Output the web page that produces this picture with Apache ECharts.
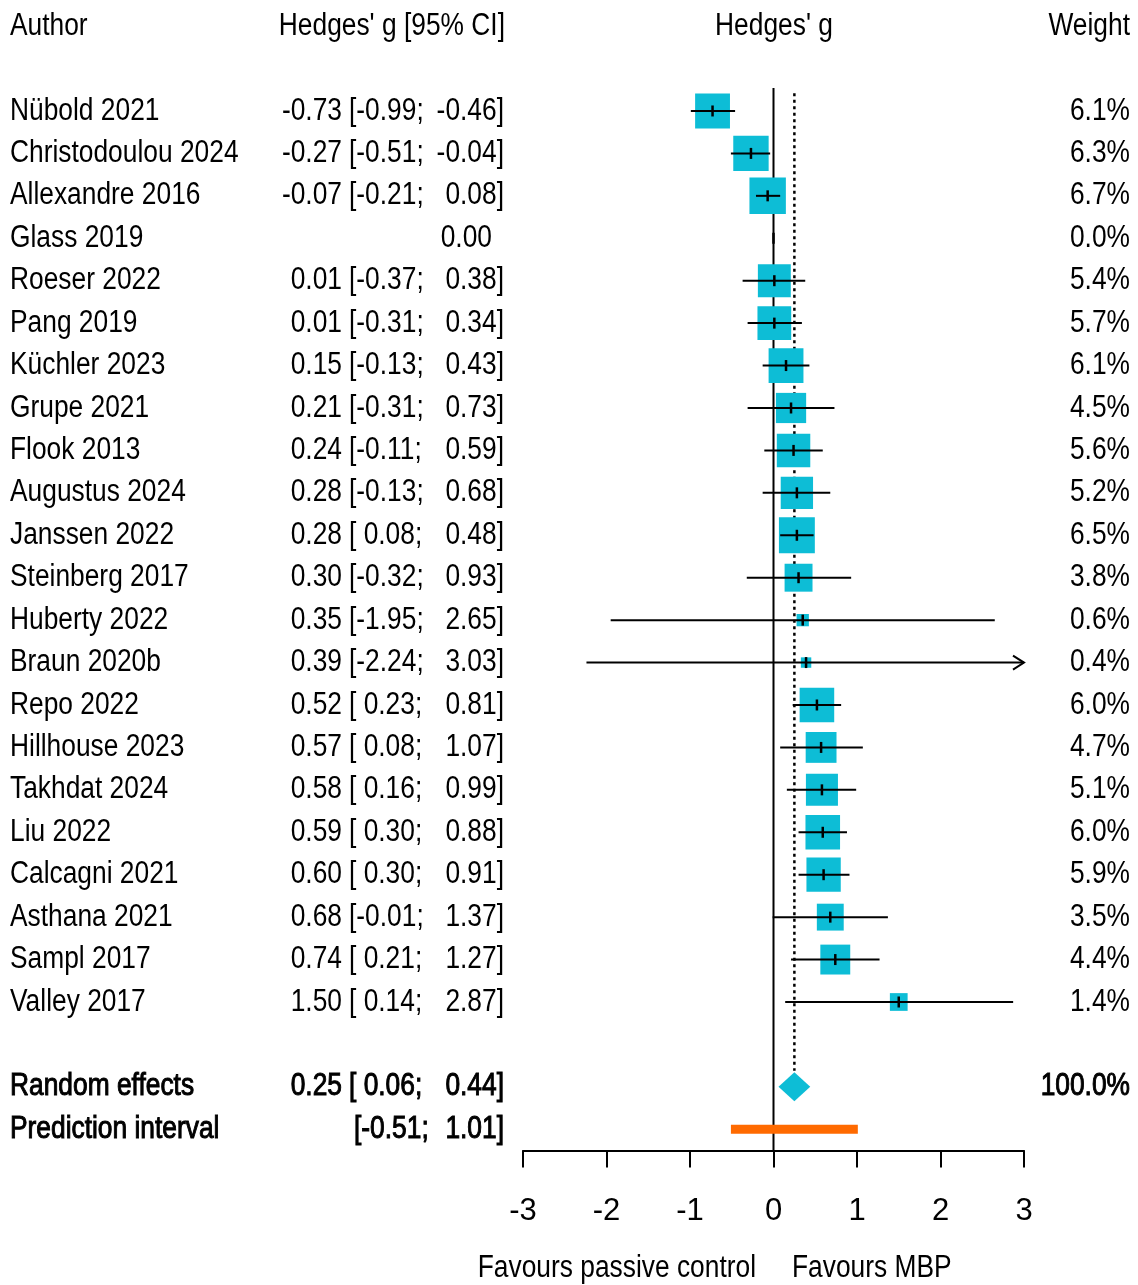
<!DOCTYPE html>
<html><head><meta charset="utf-8">
<script src="https://cdn.jsdelivr.net/npm/echarts@6/dist/echarts.min.js"></script>
<style>html,body{margin:0;padding:0;background:#fff}#c{width:1138px;height:1285px}</style>
</head><body><div id="c"></div>
<script>
// ---- data ----
const authors = ['Nübold 2021','Christodoulou 2024','Allexandre 2016','Glass 2019','Roeser 2022','Pang 2019','Küchler 2023','Grupe 2021','Flook 2013','Augustus 2024','Janssen 2022','Steinberg 2017','Huberty 2022','Braun 2020b','Repo 2022','Hillhouse 2023','Takhdat 2024','Liu 2022','Calcagni 2021','Asthana 2021','Sampl 2017','Valley 2017'];
const estimates = [-0.73,-0.27,-0.07,0.00,0.01,0.01,0.15,0.21,0.24,0.28,0.28,0.30,0.35,0.39,0.52,0.57,0.58,0.59,0.60,0.68,0.74,1.50];
const lowers = [-0.99,-0.51,-0.21,null,-0.37,-0.31,-0.13,-0.31,-0.11,-0.13,0.08,-0.32,-1.95,-2.24,0.23,0.08,0.16,0.30,0.30,-0.01,0.21,0.14];
const uppers = [-0.46,-0.04,0.08,null,0.38,0.34,0.43,0.73,0.59,0.68,0.48,0.93,2.65,3.03,0.81,1.07,0.99,0.88,0.91,1.37,1.27,2.87];
const weights = [6.1,6.3,6.7,0.0,5.4,5.7,6.1,4.5,5.6,5.2,6.5,3.8,0.6,0.4,6.0,4.7,5.1,6.0,5.9,3.5,4.4,1.4];
const pooled = [0.25, 0.06, 0.44];      // estimate, lower, upper
const pooledWeight = 100.0;
const predInterval = [-0.51, 1.01];
const xTicks = [-3,-2,-1,0,1,2,3];
const headers = ['Author', "Hedges' g [95% CI]", "Hedges' g", 'Weight'];
const favourLabels = ['Favours passive control', 'Favours MBP'];

// ---- layout / style ----
const FONT = '"Liberation Sans",Arial,sans-serif';
const FS = 31;
const SX = 0.85;   // horizontal condensing of text
const CYAN = '#0DBDD6';
const ORANGE = '#FF6A00';
const ROW_RE = authors.length + 1;   // random effects row
const ROW_PI = authors.length + 2;   // prediction interval row
const AXIS_X0 = xTicks[0], AXIS_X1 = xTicks[xTicks.length-1];

function fmt(v){ return v.toFixed(2); }
function lowTxt(v){ return '[' + (v >= 0 ? ' ' : '') + fmt(v) + ';'; }

// text items for text grid (x in pixel-like units)
const texts = [];
function T(x,row,text,align,bold){ texts.push({value:[x,row], text, align, bold:!!bold}); }
T(10,-2,headers[0],'left'); T(505,-2,headers[1],'right'); T(774,-2,headers[2],'center'); T(1130,-2,headers[3],'right');
authors.forEach((a,i)=>{
  T(10,i,a,'left');
  if (lowers[i] === null) { T(492,i,fmt(estimates[i]),'right'); }
  else {
    T(342,i,fmt(estimates[i]),'right');
    T(349,i,lowTxt(lowers[i]),'left');
    T(504,i,fmt(uppers[i]) + ']','right');
  }
  T(1130,i,weights[i].toFixed(1)+'%','right');
});
T(10,ROW_RE,'Random effects','left',true);
T(342,ROW_RE,fmt(pooled[0]),'right',true);
T(349,ROW_RE,lowTxt(pooled[1]),'left',true);
T(504,ROW_RE,fmt(pooled[2]) + ']','right',true);
T(1130,ROW_RE,pooledWeight.toFixed(1)+'%','right',true);
T(10,ROW_PI,'Prediction interval','left',true);
T(354,ROW_PI,lowTxt(predInterval[0]),'left',true);
T(504,ROW_PI,fmt(predInterval[1]) + ']','right',true);
T(756,27.28,favourLabels[0],'right');
T(792,27.28,favourLabels[1],'left');

const studyData = authors.map((a,i)=>[estimates[i], i]);

const yAxisCommon = {type:'value', min:-2.5, max:24.5, inverse:true, show:false};
const gridPos = {top:4.9, height:1145.6};

const option = {
  animation:false,
  backgroundColor:'#fff',
  grid:[
    Object.assign({left:523, width:501}, gridPos),
    Object.assign({left:0, width:1138}, gridPos)
  ],
  xAxis:[
    {gridIndex:0, type:'value', position:'bottom', min:AXIS_X0, max:AXIS_X1, interval:1,
     splitLine:{show:false},
     axisLine:{show:true, onZero:false, lineStyle:{color:'#000', width:2}},
     axisTick:{show:true, inside:false, length:17, lineStyle:{color:'#000', width:2}},
     axisLabel:{color:'#000', fontSize:FS, fontFamily:FONT, margin:45}},
    {gridIndex:1, type:'value', min:0, max:1138, show:false}
  ],
  yAxis:[
    Object.assign({gridIndex:0}, yAxisCommon),
    Object.assign({gridIndex:1}, yAxisCommon)
  ],
  series:[
    // zero line
    {type:'line', xAxisIndex:0, yAxisIndex:0, data:[[0,-0.54],[0,24.5]], symbol:'none',
     lineStyle:{color:'#000', width:2}, silent:true, z:1},
    // pooled estimate dotted line
    {type:'line', xAxisIndex:0, yAxisIndex:0, data:[[pooled[0],-0.42],[pooled[0],ROW_RE-0.38]], symbol:'none',
     lineStyle:{color:'#000', width:2.5, type:[3,3.5]}, silent:true, z:1},
    // studies
    {type:'custom', xAxisIndex:0, yAxisIndex:0, clip:false, data:studyData, z:3,
     renderItem:function(params, api){
       const i = params.dataIndex;
       const c = api.coord([estimates[i], i]);
       const children = [];
       const side = 2 + 13.3*Math.sqrt(weights[i]);
       if (weights[i] > 0) {
         children.push({type:'rect', shape:{x:c[0]-side/2, y:c[1]-side/2, width:side, height:side}, style:{fill:CYAN}});
       }
       if (lowers[i] !== null) {
         const l = api.coord([Math.max(lowers[i], AXIS_X0), i]);
         const u = api.coord([Math.min(uppers[i], AXIS_X1), i]);
         children.push({type:'line', shape:{x1:l[0], y1:l[1], x2:u[0], y2:u[1]}, style:{stroke:'#000', lineWidth:2}});
         if (uppers[i] > AXIS_X1) {
           children.push({type:'polyline', shape:{points:[[u[0]-11,u[1]-7],[u[0],u[1]],[u[0]-11,u[1]+7]]}, style:{stroke:'#000', lineWidth:2, fill:null}});
         }
         if (lowers[i] < AXIS_X0) {
           children.push({type:'polyline', shape:{points:[[l[0]+11,l[1]-7],[l[0],l[1]],[l[0]+11,l[1]+7]]}, style:{stroke:'#000', lineWidth:2, fill:null}});
         }
       }
       children.push({type:'line', shape:{x1:c[0], y1:c[1]-5.5, x2:c[0], y2:c[1]+5.5}, style:{stroke:'#000', lineWidth:2.5}});
       return {type:'group', children};
     }},
    // random effects diamond
    {type:'custom', xAxisIndex:0, yAxisIndex:0, clip:false, data:[[pooled[0], ROW_RE]], z:3,
     renderItem:function(params, api){
       const c = api.coord([pooled[0], ROW_RE]);
       const l = api.coord([pooled[1], ROW_RE]);
       const u = api.coord([pooled[2], ROW_RE]);
       return {type:'polygon', shape:{points:[[l[0],c[1]],[c[0],c[1]-14.5],[u[0],c[1]],[c[0],c[1]+14.5]]}, style:{fill:CYAN}};
     }},
    // prediction interval
    {type:'custom', xAxisIndex:0, yAxisIndex:0, clip:false, data:[[predInterval[0], ROW_PI]], z:3,
     renderItem:function(params, api){
       const l = api.coord([predInterval[0], ROW_PI]);
       const u = api.coord([predInterval[1], ROW_PI]);
       return {type:'rect', shape:{x:l[0], y:l[1]-4.5, width:u[0]-l[0], height:9}, style:{fill:ORANGE}};
     }},
    // text
    {type:'custom', xAxisIndex:1, yAxisIndex:1, clip:false, data:texts.map(t=>t.value), z:5, silent:true,
     renderItem:function(params, api){
       const t = texts[params.dataIndex];
       const p = api.coord(t.value);
       const style = {text:t.text, align:t.align, verticalAlign:'middle',
         fontSize:FS, fontFamily:FONT, fontWeight:'normal', fill:'#000'};
       if (t.bold) { style.stroke = '#000'; style.lineWidth = 1; }
       return {type:'text', x:p[0], y:p[1], scaleX:SX, scaleY:1, style};
     }}
  ]
};
echarts.init(document.getElementById('c'), null, {renderer:'canvas'}).setOption(option);
</script></body></html>
